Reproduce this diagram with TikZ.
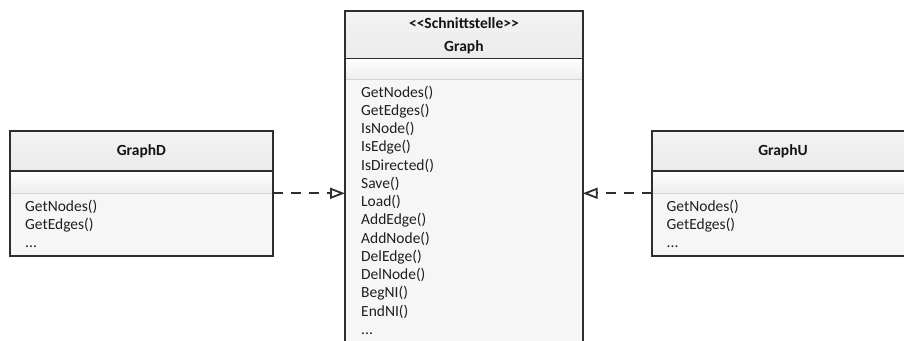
\documentclass[tikz,border=0pt]{standalone}
\usepackage{fontspec}
\setmainfont{Carlito}[Ligatures=TeXOff]
\usetikzlibrary{arrows.meta}
\definecolor{frame}{HTML}{2E2E2E}
\definecolor{headfill}{HTML}{EBEBEB}
\definecolor{opsfill}{HTML}{F6F6F6}
\definecolor{sepline}{HTML}{D6D6D6}
\tikzset{
  comp/.style={rectangle, inner sep=0pt, outer sep=0pt, anchor=north west},
  headbox/.style={comp, draw=frame, line width=1.8pt, top color=headfill!60, bottom color=headfill},
  attrbox/.style={comp, top color=white, bottom color=headfill!85},
  opsbox/.style={comp, fill=opsfill},
  frameline/.style={draw=frame, line width=1.8pt},
  sepl/.style={draw=sepline, line width=0.8pt},
  title/.style={inner sep=0pt, anchor=base, font=\fontsize{15.5}{18}\selectfont\bfseries, text=black!92},
  op/.style={inner sep=0pt, anchor=base west, font=\fontsize{15.5}{18}\selectfont, text=black!88},
  realize/.style={draw=frame, line width=1.8pt, dash pattern=on 10pt off 8pt,
    -{Triangle[open, length=15pt, width=11pt]}}
}
\begin{document}
\begin{tikzpicture}[x=1pt, y=-1pt]
\clip (0,0) rectangle (904,340);
\fill[white] (0,0) rectangle (904,340);

% interface Graph
\node[attrbox, minimum width=237.7pt, minimum height=20.5pt] (gAttr) at (345,58.5) {};
\node[opsbox, minimum width=237.7pt, minimum height=281pt] (gOps) at (345,79) {};
\draw[sepl] (gAttr.south west) -- (gAttr.south east);
\draw[frameline] (gAttr.north west) rectangle (gOps.south east);
\node[headbox, minimum width=237.7pt, minimum height=47.5pt] (gHead) at (345,11) {};
\node[title] (gStereo) at (463.9,28) {<\kern0pt<Schnittstelle>\kern0pt>};
\node[title] (gName) at (463.9,51.5) {Graph};
\foreach \m [count=\i from 0] in {GetNodes(),GetEdges(),IsNode(),IsEdge(),IsDirected(),Save(),Load(),AddEdge(),AddNode(),DelEdge(),DelNode(),BegNI(),EndNI()}
  \node[op] (gOp\i) at (361,97+\i*18.25) {\m};
\node[op] (gOpMore) at (361,97+13*18.25) {...};

% class GraphD
\node[attrbox, minimum width=262.7pt, minimum height=22.6pt] (dAttr) at (10,170.7) {};
\node[opsbox, minimum width=262.7pt, minimum height=62.4pt] (dOps) at (10,193.3) {};
\draw[sepl] (dAttr.south west) -- (dAttr.south east);
\draw[frameline] (dAttr.north west) rectangle (dOps.south east);
\node[headbox, minimum width=262.7pt, minimum height=39.7pt] (dHead) at (10,131) {};
\node[title] (dName) at (141.35,155.5) {GraphD};
\node[op] (dOp0) at (25,211) {GetNodes()};
\node[op] (dOp1) at (25,229.3) {GetEdges()};
\node[op] (dOp2) at (25,247.6) {...};

% class GraphU
\node[attrbox, minimum width=262.7pt, minimum height=22.6pt] (uAttr) at (651.7,170.7) {};
\node[opsbox, minimum width=262.7pt, minimum height=62.4pt] (uOps) at (651.7,193.3) {};
\draw[sepl] (uAttr.south west) -- (uAttr.south east);
\draw[frameline] (uAttr.north west) rectangle (uOps.south east);
\node[headbox, minimum width=262.7pt, minimum height=39.7pt] (uHead) at (651.7,131) {};
\node[title] (uName) at (783,155.5) {GraphU};
\node[op] (uOp0) at (666.5,211) {GetNodes()};
\node[op] (uOp1) at (666.5,229.3) {GetEdges()};
\node[op] (uOp2) at (666.5,247.6) {...};

% realizations
\draw[realize] (dAttr.south east) -- (dAttr.south east -| gOps.west);
\draw[realize] (uAttr.south west) -- (uAttr.south west -| gOps.east);
\end{tikzpicture}
\end{document}
